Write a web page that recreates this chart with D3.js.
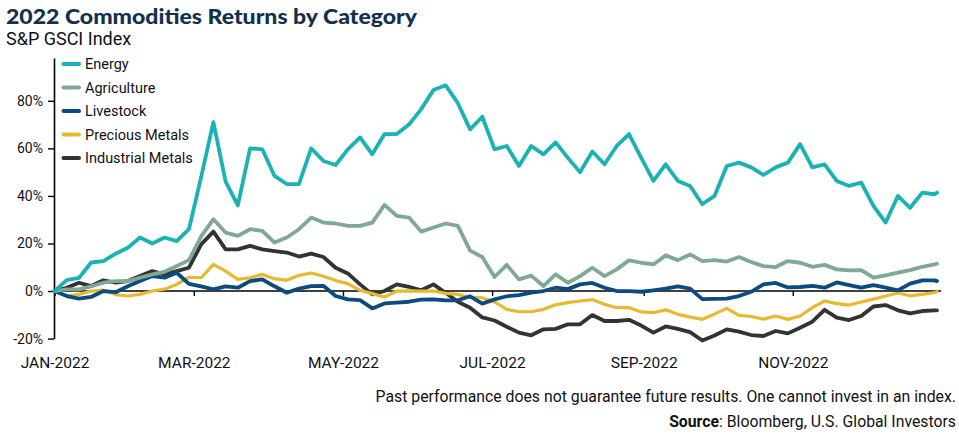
<!DOCTYPE html>
<html>
<head>
<meta charset="utf-8">
<script src="https://cdn.jsdelivr.net/npm/d3@7"></script>
<style>
  body { margin: 0; background: #fff; }
  text { font-family: Roboto, "Noto Sans", sans-serif; }
</style>
</head>
<body>
<script>
// dates sampled every 5 days (plus the last day)
const dates = [
  '2022-01-03','2022-01-08','2022-01-13','2022-01-18','2022-01-23','2022-01-28','2022-02-02','2022-02-07','2022-02-12','2022-02-17',
  '2022-02-22','2022-02-27','2022-03-04','2022-03-09','2022-03-14','2022-03-19','2022-03-24','2022-03-29','2022-04-03','2022-04-08',
  '2022-04-13','2022-04-18','2022-04-23','2022-04-28','2022-05-03','2022-05-08','2022-05-13','2022-05-18','2022-05-23','2022-05-28',
  '2022-06-02','2022-06-07','2022-06-12','2022-06-17','2022-06-22','2022-06-27','2022-07-02','2022-07-07','2022-07-12','2022-07-17',
  '2022-07-22','2022-07-27','2022-08-01','2022-08-06','2022-08-11','2022-08-16','2022-08-21','2022-08-26','2022-08-31','2022-09-05',
  '2022-09-10','2022-09-15','2022-09-20','2022-09-25','2022-09-30','2022-10-05','2022-10-10','2022-10-15','2022-10-20','2022-10-25',
  '2022-10-30','2022-11-04','2022-11-09','2022-11-14','2022-11-19','2022-11-24','2022-11-29','2022-12-04','2022-12-09','2022-12-14',
  '2022-12-19','2022-12-24','2022-12-29','2022-12-30'
];

const energy = [
  0, 4.6, 5.5, 12, 12.6, 15.7, 18.2, 22.5, 20, 22.5,
  21, 26, 48, 71, 46, 36, 60, 59.6, 48.4, 45,
  45, 60, 54.7, 53, 59.6, 64.6, 57.5, 66, 66, 70,
  76.5, 84.5, 86.5, 79, 68, 73.3, 59.6, 61, 52.6, 61,
  57.5, 62.5, 56, 50, 58.7, 53.3, 61, 66, 56, 46.3,
  53.3, 46.3, 44.2, 36.5, 40, 52.6, 54, 52, 48.8, 52,
  54, 61.8, 52, 53.3, 46.3, 44.2, 45.6, 35.8, 28.8, 40,
  35, 41.4, 40.7, 41.4
];
const agriculture = [
  0, 0.7, 0.7, 2, 3.5, 4.2, 4.2, 5.6, 7, 8.1,
  10.5, 13, 23, 30.2, 24.6, 23.2, 26, 25.3, 20.4, 22.5,
  26, 30.9, 28.8, 28.4, 27.4, 27.4, 28.8, 36.2, 31.6, 30.9,
  25, 26.7, 28.4, 27.4, 17, 14.3, 5.9, 11, 4.9, 6.5,
  2.1, 7, 3.5, 6.3, 9.8, 6.3, 9.1, 12.9, 11.9, 11.2,
  15, 13, 15.4, 12.6, 13, 12.4, 14.3, 12.2, 10.5, 10.1,
  12.6, 11.9, 10.2, 11, 9.1, 8.7, 8.8, 5.6, 6.6, 7.7,
  8.8, 10.2, 11.2, 11.5
];
const livestock = [
  0, -2.1, -3.2, -2.5, 0, -0.5, 2, 4.2, 6.3, 5.6,
  7.7, 3, 2, 0.7, 2, 1.4, 4.2, 4.9, 2, -0.7,
  1, 2.1, 2.2, -2.1, -3.5, -3.8, -7.3, -5.2, -4.9, -4.5,
  -3.6, -3.5, -3.9, -3.9, -2.2, -5.3, -3.5, -2.2, -1.7, -0.7,
  0, 1.4, 0.8, 2.8, 3.4, 1.4, 0, 0, -0.3, 0.3,
  1, 2, 1, -3.4, -3.3, -3.2, -2.1, -0.3, 2.8, 3.4,
  1.5, 1.7, 2.2, 1.4, 3.6, 2.5, 1.4, 2.5, 1.4, 0.3,
  3.1, 4.5, 4.5, 4.2
];
const preciousMetals = [
  0, -2.1, -1.4, 0, 0.4, -1.5, -2.1, -1.4, 0, 0.8,
  2.8, 5.8, 5.6, 11.2, 8.4, 4.9, 5.6, 7, 5.2, 4.5,
  6.6, 7.6, 6.2, 4.4, 3.1, 0.3, -1.1, -2.5, 0, 0.1,
  0, 0, -1, -1.4, -2.7, -2.8, -4.6, -7.7, -8.7, -8.7,
  -7.7, -5.8, -4.9, -4.2, -3.6, -5.6, -7, -7, -8.8, -9.1,
  -7.9, -9.8, -10.9, -11.9, -9.7, -7.3, -10.2, -10.7, -11.8, -10.5,
  -11.9, -10.5, -7, -4.2, -5.3, -5.9, -4.6, -3.4, -2.1, -0.8,
  -2, -1.4, -0.6, -0.3
];
const industrialMetals = [
  0, 1.4, 3.5, 2.1, 4.5, 3.5, 4.2, 6.3, 8.4, 7,
  8.4, 9.8, 19.6, 25, 17.5, 17.5, 19, 17.5, 16.8, 16.2,
  14.5, 15.7, 14.3, 9.8, 7.4, 2.8, -1.4, 0, 2.8, 1.8,
  0.3, 2.8, -0.7, -4.5, -7, -11.1, -12.4, -15, -17.5, -18.6,
  -16.1, -15.9, -14, -14, -10.1, -12.6, -12.6, -12.1, -14.5, -17.5,
  -14.9, -15.9, -17.3, -20.8, -18.7, -16.1, -17.1, -18.5, -18.9, -16.8,
  -17.8, -15.4, -12.9, -7.9, -11.2, -12.2, -10.5, -6.5, -5.9, -8.1,
  -9.4, -8.4, -8.1, -8.1
];

const seriesNames = ['Energy', 'Agriculture', 'Livestock', 'Precious Metals', 'Industrial Metals'];
const seriesColors = ['#1bb2b4', '#7fa895', '#0c4a80', '#e6b92f', '#333333'];
const yTicks = [-20, 0, 20, 40, 60, 80];
const xTickDates = ['2022-01-03', '2022-03-01', '2022-05-01', '2022-07-01', '2022-09-01', '2022-11-01'];
const xTickLabels = ['JAN-2022', 'MAR-2022', 'MAY-2022', 'JUL-2022', 'SEP-2022', 'NOV-2022'];

const parse = d3.timeParse('%Y-%m-%d');
const seriesValues = [energy, agriculture, livestock, preciousMetals, industrialMetals];
const series = seriesNames.map((name, i) => ({
  name: name,
  color: seriesColors[i],
  values: dates.map((d, j) => ({ date: parse(d), value: seriesValues[i][j] }))
}));

const svg = d3.select('body').append('svg')
    .attr('width', 959)
    .attr('height', 434);

const x = d3.scaleTime()
    .domain([parse(dates[0]), parse(dates[dates.length - 1])])
    .range([54.5, 937]);

const y = d3.scaleLinear()
    .domain([-20, 98])
    .range([338.6, 58]);

// title
svg.append('text')
    .attr('x', 6)
    .attr('y', 24)
    .text('2022 Commodities Returns by Category')
    .style('font-family', 'Lato, Inter, sans-serif')
    .attr('font-weight', 900)
    .attr('font-size', '21px')
    .attr('textLength', 411)
    .attr('lengthAdjust', 'spacingAndGlyphs')
    .attr('fill', '#13304e');

svg.append('text')
    .attr('x', 6)
    .attr('y', 45)
    .text('S&P GSCI Index')
    .attr('font-size', '18px')
    .attr('fill', '#111');

// y axis
const yAxis = svg.append('g')
    .attr('transform', `translate(${x.range()[0] - 0.5}, 0)`)
    .call(d3.axisLeft(y).tickValues(yTicks).tickSize(6).tickPadding(5).tickFormat(d => d + '%').tickSizeOuter(0));
yAxis.select('.domain').attr('stroke', '#000').attr('stroke-width', 1.6);
yAxis.selectAll('.tick line').attr('stroke', '#000').attr('stroke-width', 1.4);
yAxis.selectAll('.tick text')
    .attr('font-size', '14px')
    .attr('fill', '#111')
    .style('font-family', 'Roboto, sans-serif');

// x axis on the zero line
const xAxis = svg.append('g')
    .attr('transform', `translate(0, ${y(0)})`)
    .call(d3.axisBottom(x).tickValues(xTickDates.map(parse)).tickSize(5)
      .tickFormat((d, i) => xTickLabels[i]));
xAxis.select('.domain').remove();
xAxis.append('line')
    .attr('x1', x.range()[0] - 0.5)
    .attr('x2', x.range()[1] + 4)
    .attr('stroke', '#000')
    .attr('stroke-width', 1.4);
xAxis.selectAll('.tick line').attr('stroke', '#000').attr('stroke-width', 1.4);
xAxis.selectAll('.tick text')
    .attr('y', y(-20) - y(0) + 18)
    .attr('font-size', '15.5px')
    .attr('fill', '#111')
    .style('font-family', 'Roboto, sans-serif');

// lines
const line = d3.line()
    .x(d => x(d.date))
    .y(d => y(d.value));

const drawOrder = ['Industrial Metals', 'Precious Metals', 'Livestock', 'Agriculture', 'Energy'];
svg.append('g')
    .selectAll('path')
    .data(drawOrder.map(n => series.find(s => s.name === n)))
    .enter()
    .append('path')
    .attr('d', d => line(d.values))
    .attr('fill', 'none')
    .attr('stroke', d => d.color)
    .attr('stroke-width', d => d.name === 'Precious Metals' ? 3.2 : 3.8)
    .attr('stroke-linejoin', 'round')
    .attr('stroke-linecap', 'round');

// legend
const legend = svg.append('g')
    .attr('transform', 'translate(62, 64)')
    .selectAll('g')
    .data(series)
    .enter()
    .append('g')
    .attr('transform', (d, i) => `translate(0, ${i * 23.5})`);

legend.append('line')
    .attr('x1', 1.5)
    .attr('x2', 17)
    .attr('stroke', d => d.color)
    .attr('stroke-width', 4)
    .attr('stroke-linecap', 'round');

legend.append('text')
    .attr('x', 23)
    .attr('y', 5)
    .text(d => d.name)
    .attr('font-size', '14.5px')
    .attr('fill', '#111');

// footer
svg.append('text')
    .attr('x', 956)
    .attr('y', 402)
    .attr('text-anchor', 'end')
    .text('Past performance does not guarantee future results. One cannot invest in an index.')
    .attr('font-size', '15.8px')
    .attr('fill', '#111');

const source = svg.append('text')
    .attr('x', 956)
    .attr('y', 427)
    .attr('text-anchor', 'end')
    .attr('font-size', '15.8px')
    .attr('fill', '#111');
source.append('tspan').attr('font-weight', 700).text('Source');
source.append('tspan').text(': Bloomberg, U.S. Global Investors');
</script>
</body>
</html>
